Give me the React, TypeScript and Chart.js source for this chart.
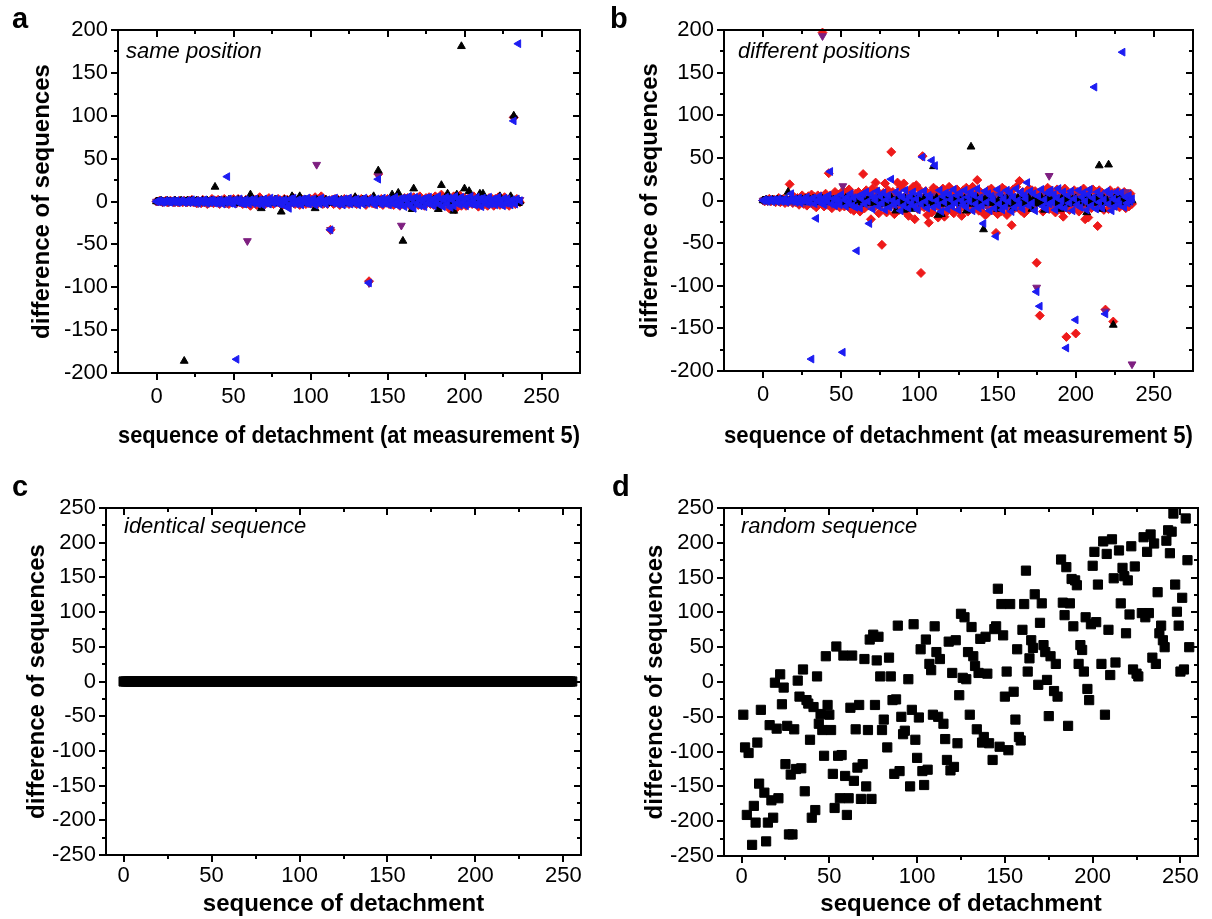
import React, { useEffect, useRef } from 'react';
import { Chart, registerables } from 'chart.js';

Chart.register(...registerables);

const FONT = "'Liberation Sans', Arial, Helvetica, sans-serif";
const BLACK = '#000000';
const RED = '#ee1a1a';
const PURPLE = '#7e1f80';
const BLUE = '#1c1cf2';

// ---------- tick values ----------
const xMajorAB = [0, 50, 100, 150, 200, 250];
const xMinorAB = [25, 75, 125, 175, 225];
const yMajorAB = [-200, -150, -100, -50, 0, 50, 100, 150, 200];
const yMinorAB = [-175, -125, -75, -25, 25, 75, 125, 175];
const xMajorCD = [0, 50, 100, 150, 200, 250];
const xMinorCD = [25, 75, 125, 175, 225];
const yMajorCD = [-250, -200, -150, -100, -50, 0, 50, 100, 150, 200, 250];
const yMinorCD = [-225, -175, -125, -75, -25, 25, 75, 125, 175, 225];

// ---------- panel a: same position (x = sequence index 0..236) ----------
const sameBlue = [
  0,0,1,0,-1,0,1,0,0,-1,1,0,0,1,-1,0,1,0,-1,0,
  1,-1,0,2,-1,0,1,-2,1,0,-1,2,0,-2,1,-1,2,0,-2,1,
  -2,2,0,-3,1,-1,29,3,-2,1,-3,2,-184,-1,3,-2,1,-3,2,0,
  -3,2,1,-2,3,-1,-3,2,0,-4,3,-2,1,-3,4,0,-2,3,-1,2,
  -3,1,-4,2,0,-6,-8,3,-2,4,-1,-3,2,0,-4,3,1,-2,4,-3,
  2,-1,3,-4,0,2,-3,4,-1,1,-3,2,0,-33,3,-2,4,-1,-3,2,
  0,-4,3,1,-2,4,-3,0,2,-1,3,-4,1,2,-3,4,0,-2,-95,3,
  -1,2,-4,3,26,1,-3,4,-2,0,3,-4,2,1,-3,5,-1,-5,3,-2,
  4,-6,2,-3,6,-4,3,-8,5,-2,4,-5,1,3,-6,4,-2,5,-3,2,
  -5,4,-1,6,-4,3,-6,2,5,-3,4,-7,2,-5,6,-2,3,-4,5,-1,
  3,-5,4,-2,6,-3,1,-4,5,-2,3,-6,4,-1,2,-4,5,-3,1,3,
  -4,2,5,-3,1,-5,4,-2,3,-1,-4,2,94,-3,3,184,1,
];
const sameRed = [
  0,0,1,0,-1,0,1,-1,0,1,0,-1,1,0,-1,1,0,-1,1,0,
  -1,1,0,2,-1,0,-2,1,0,-2,2,-1,1,-3,0,-1,3,-2,1,0,
  2,-3,1,0,3,-2,0,-3,2,-1,3,0,-2,3,-1,2,-3,0,2,-2,
  1,-5,3,0,2,-4,1,5,-3,0,-4,2,-1,4,-2,0,-3,2,-1,3,
  -2,1,-4,3,0,2,-3,2,-1,4,-3,0,2,-4,3,-1,2,-3,1,-2,
  3,-2,0,5,-4,2,-1,6,-3,1,2,-3,0,-33,2,-3,3,-1,2,-4,
  1,-2,3,0,2,-3,3,-2,0,4,-3,1,-2,3,-1,2,-4,2,-93,3,
  -2,3,-3,1,32,-2,3,-4,2,-1,3,-3,0,2,-4,4,-2,1,-5,3,
  -2,4,-1,4,-4,2,-6,5,-2,3,-4,6,-3,1,-5,4,0,5,-3,2,
  -4,6,-2,3,-6,8,-3,4,-1,5,-8,3,-4,6,-9,3,-2,7,-5,1,
  4,-5,3,-2,5,-3,6,-1,3,-6,2,-4,5,-3,1,-5,4,-2,3,-5,
  3,-1,5,-4,2,-3,5,-3,1,-5,4,-2,98,-3,3,1,-1,
];
const sameBlack = [
  0,0,0,1,0,-1,0,1,0,0,-1,0,1,0,0,-1,1,0,-186,0,
  1,-1,0,1,0,-1,1,0,-1,0,1,-1,0,1,-1,0,1,-1,17,0,
  -1,1,0,-2,1,0,-1,2,0,-1,1,-2,0,2,-1,1,-2,0,1,-1,
  2,8,-1,0,1,-2,2,0,-8,1,-1,2,0,-2,1,0,-1,2,-2,0,
  1,-12,0,2,-1,1,-2,0,6,-1,2,0,-1,6,1,-2,0,2,-1,1,
  0,-2,1,-8,2,0,-1,1,-2,0,2,-1,1,-2,0,2,-1,0,1,-2,
  2,0,-1,1,-2,2,0,-1,1,5,-2,0,1,-1,2,0,-2,1,-1,0,
  2,6,-1,0,36,1,-2,2,0,-1,1,-2,0,8,-1,2,0,10,-2,1,
  -46,0,2,-1,1,-2,-9,15,0,2,-1,1,-2,0,2,-1,1,0,-2,1,
  2,-1,0,-9,1,19,-2,0,2,9,-1,1,0,-11,2,8,-1,0,181,-2,
  15,1,-1,12,0,2,-2,1,0,-1,9,2,9,-2,1,0,-1,2,-2,0,
  1,-1,2,6,0,-2,1,0,-1,2,6,-1,100,0,1,-2,0,
];
const samePurple = [
  0,0,1,0,-1,0,0,1,-1,0,1,0,-1,1,0,-1,0,1,0,-1,
  1,0,-1,2,0,-1,1,-2,0,1,-1,2,0,-2,1,0,-1,2,-1,0,
  1,-2,2,0,-1,1,-2,0,2,-1,0,1,-2,2,0,-1,1,-2,0,-46,
  1,-1,2,0,-2,1,-1,2,0,-2,1,0,-1,2,-2,1,0,-1,2,-1,
  0,2,-2,1,-1,0,2,-1,1,-2,0,1,-1,2,0,-2,1,-1,0,2,
  -1,1,0,-2,43,1,-1,2,0,-2,1,-1,0,-33,2,-1,1,0,-2,1,
  0,-1,2,-2,1,0,-1,2,0,-2,1,-1,2,0,-1,1,-2,0,-95,1,
  0,-2,2,-1,30,0,-2,1,-1,2,0,-2,1,-1,2,0,-1,1,-2,-28,
  1,0,-2,2,-1,1,0,-2,1,-1,2,0,-1,1,-2,2,0,-1,1,-2,
  2,0,-1,1,-2,2,-1,0,1,-2,2,0,-1,1,-2,0,2,-1,1,0,
  -2,1,-1,2,0,-2,1,-1,2,0,-1,1,-2,0,2,-1,1,-2,0,1,
  -1,2,0,-2,1,-1,2,0,-1,1,-2,0,97,1,-1,0,2,
];

// ---------- panel b: different positions (x = sequence index 0..236) ----------
const diffBlue = [
  0,1,0,-1,1,0,-1,1,0,-1,2,0,-1,1,2,-2,0,1,8,-1,
  2,-2,1,3,-3,0,2,-1,4,-2,1,-186,3,-4,-21,0,5,-3,2,-5,
  4,-1,6,34,-4,2,-6,3,0,-5,7,-178,1,-7,4,-2,8,-6,3,-8,
  -59,5,-9,2,8,-4,10,-1,-27,7,-10,3,0,11,-7,5,-3,9,-11,1,
  6,-8,25,0,-5,10,-2,7,-12,4,-6,12,1,-9,5,-3,10,-7,2,-11,
  8,-4,51,11,-1,-9,6,3,47,-8,41,0,-6,12,-13,5,-2,9,-10,7,
  1,-7,13,-3,6,-11,9,0,-5,12,-8,4,-1,10,-12,6,-4,14,-9,3,
  -6,-27,11,-2,8,-12,5,1,-9,-42,13,-4,7,-11,2,-7,12,-1,9,-13,
  4,-8,14,0,-5,10,-10,6,2,21,-6,11,-3,8,-12,-107,5,-124,13,-7,
  1,-10,9,-4,12,-2,7,-11,3,14,-7,0,10,-9,-173,6,-3,11,-12,2,
  -140,-5,12,-8,4,9,-1,-11,7,13,-6,3,133,-10,10,-2,6,-9,1,-133,
  11,-4,8,-12,2,-7,10,0,-5,9,174,-8,4,-3,6,-1,2,
];
const diffRed = [
  0,-1,1,0,2,-1,0,1,-2,1,3,-2,0,2,-3,1,-2,19,2,-3,
  4,-2,3,-5,2,6,-4,3,-6,5,-3,7,-5,4,-8,6,-2,5,197,-7,
  8,-5,32,6,-9,4,10,-6,7,-8,5,11,-7,9,-4,13,-10,6,-12,8,
  -5,10,-13,7,31,-9,12,-6,9,-22,14,-8,21,11,-15,6,-52,9,20,-14,
  12,-7,57,10,-16,8,21,-11,15,-9,20,-13,7,-18,12,-6,16,-22,18,-10,
  13,-85,52,-8,11,-17,-26,9,-14,15,-7,12,-20,8,-10,14,-19,7,-12,16,
  -9,11,-15,8,13,-11,6,-18,12,-7,15,-13,9,-6,16,-10,8,24,-12,10,
  -13,7,-17,-16,12,-9,14,-11,8,-38,-16,10,-13,15,-8,12,-17,9,-11,-29,
  13,-9,16,-7,23,-12,10,-15,8,-11,14,-6,12,-9,11,-73,7,-135,9,-13,
  11,-8,15,-10,12,-7,9,-14,13,-6,10,-12,-19,14,-160,8,-11,7,-9,12,
  -156,10,-13,9,-7,14,-22,8,-20,11,-9,13,-6,10,-30,12,-8,9,-11,-128,
  8,-10,12,-7,-142,9,-6,11,-8,7,-5,10,-9,6,-7,8,-4,
];
const diffBlack = [
  0,0,1,0,-1,0,1,-1,0,1,0,-1,1,0,-1,1,10,0,-1,1,
  0,-1,1,-2,0,1,-1,2,0,-2,1,-1,2,0,-2,1,-1,0,2,-1,
  1,-2,0,2,-1,1,-3,0,2,-1,-3,1,-2,3,-5,0,2,-1,-2,1,
  -2,3,-1,0,-4,2,-3,1,-2,2,0,-3,1,-2,3,-1,0,2,-4,1,
  -2,-1,3,-1,0,-12,2,-3,1,-2,-11,2,-4,1,-3,-10,2,-1,-2,3,
  -2,1,-4,2,0,-3,1,-2,2,40,-2,3,-17,1,-16,2,-4,0,3,-2,
  1,-2,2,-3,0,1,-2,1,-3,2,-12,0,3,63,-4,1,-2,3,-2,0,
  2,-34,1,-3,2,-1,-3,2,0,-3,-10,1,-2,3,-2,0,2,-4,1,-3,
  -9,2,-1,3,-2,0,2,-4,1,-2,3,-2,-10,1,-3,2,0,-4,3,-1,
  -11,2,-3,1,-2,0,3,-2,1,-3,-10,2,-1,3,-4,0,2,-2,1,-3,
  2,-2,0,-3,2,-1,3,-14,1,-4,2,0,-3,2,-2,41,-1,-10,2,-3,
  0,42,-2,1,-146,3,-4,0,2,-2,1,-3,2,0,-2,1,0,
];
const diffPurple = [
  0,1,0,-1,0,1,0,-1,1,0,-1,0,1,-1,0,2,-1,0,1,-2,
  1,0,-2,2,-1,0,3,-2,1,-1,2,-3,0,1,-2,3,-1,0,193,-2,
  2,-3,1,0,-4,3,-1,2,-3,1,4,17,-2,3,-4,1,-3,2,5,-1,
  3,-4,2,-2,4,-1,3,-5,1,-3,6,-2,4,-4,0,3,-5,2,-1,4,
  -3,5,-2,1,-6,3,-4,2,5,-3,-8,4,-2,3,-5,1,6,5,-4,2,
  -3,4,-1,5,-6,2,-2,3,-4,6,-1,2,-5,3,0,-4,4,-2,5,-3,
  2,-5,4,-1,3,-6,1,5,-3,2,-4,3,-1,6,-5,2,-2,4,-3,1,
  5,-4,2,-6,3,-1,4,-2,6,-5,1,3,-4,2,-3,5,-1,4,-6,2,
  -2,5,-3,1,4,-6,3,-1,2,-4,6,-2,3,-5,1,-102,4,-3,2,-1,
  5,-4,3,29,-2,6,-5,1,4,-3,2,-6,3,-1,5,-4,2,-2,4,-3,
  6,-1,3,-5,2,-4,5,-2,1,-6,3,-1,4,-3,2,-5,6,-2,1,-130,
  3,-4,5,-1,2,-6,4,-3,1,-2,5,-4,10,-1,3,-2,-192,
];

// ---------- panel c: identical sequence (x = 0..255) ----------
const identicalDiff = [
  0,0,0,0,0,0,0,0,0,0,0,0,0,0,0,0,
  0,0,0,0,0,0,0,0,0,0,0,0,0,0,0,0,
  0,0,0,0,0,0,0,0,0,0,0,0,0,0,0,0,
  0,0,0,0,0,0,0,0,0,0,0,0,0,0,0,0,
  0,0,0,0,0,0,0,0,0,0,0,0,0,0,0,0,
  0,0,0,0,0,0,0,0,0,0,0,0,0,0,0,0,
  0,0,0,0,0,0,0,0,0,0,0,0,0,0,0,0,
  0,0,0,0,0,0,0,0,0,0,0,0,0,0,0,0,
  0,0,0,0,0,0,0,0,0,0,0,0,0,0,0,0,
  0,0,0,0,0,0,0,0,0,0,0,0,0,0,0,0,
  0,0,0,0,0,0,0,0,0,0,0,0,0,0,0,0,
  0,0,0,0,0,0,0,0,0,0,0,0,0,0,0,0,
  0,0,0,0,0,0,0,0,0,0,0,0,0,0,0,0,
  0,0,0,0,0,0,0,0,0,0,0,0,0,0,0,0,
  0,0,0,0,0,0,0,0,0,0,0,0,0,0,0,0,
  0,0,0,0,0,0,0,0,0,0,0,0,0,0,0,0,
];

// ---------- panel d: random sequence ----------
const randomX = [
  1,2,4,3,6,7,8,9,11,10,13,14,15,16,17,18,19,20,21,22,
  23,24,25,26,27,29,28,30,31,32,33,34,35,36,37,38,39,40,41,42,
  43,44,45,46,47,48,49,50,51,52,53,54,55,56,57,58,59,60,61,62,
  63,64,65,66,67,68,69,70,71,72,73,75,78,74,76,77,79,80,81,83,
  84,85,86,87,88,89,90,91,92,93,95,96,97,98,99,100,101,103,104,102,
  105,106,107,108,110,109,111,112,113,115,116,117,118,119,120,122,123,121,125,126,
  127,124,128,129,130,131,132,133,135,134,136,137,138,140,141,139,143,144,145,147,
  146,149,148,150,151,152,153,155,156,157,158,159,160,161,162,163,164,165,167,166,
  169,170,172,171,173,174,175,176,178,179,180,182,183,184,185,186,187,188,189,190,
  191,192,193,194,196,195,197,198,199,200,201,202,203,205,206,207,208,209,210,211,
  212,213,215,216,217,218,220,219,221,223,224,222,225,226,228,229,230,231,232,233,
  234,235,236,237,238,239,240,241,242,243,244,245,246,247,248,249,250,251,252,253,
  254,255,
];
const randomY = [
  -47,-94,-102,-191,-234,-178,-202,-87,-40,-146,-159,-229,-202,-62,-170,-195,-1,-67,-167,11,
  -32,-8,-118,-63,-219,-219,-133,-68,-125,2,-21,-124,18,-157,-26,-31,-83,-195,-36,-184,
  8,-60,-46,-69,-106,37,-33,-47,-69,-132,-181,51,-106,-167,-105,38,-135,-191,-167,-37,
  38,-142,-68,-123,-33,-168,-118,33,-150,-69,61,68,65,-168,-33,31,8,-69,-54,-94,
  35,8,-26,-132,-25,81,-128,-50,-75,-70,4,-150,-40,83,-83,-109,-51,-128,-148,47,
  61,-126,26,17,80,-47,43,-50,33,-60,-82,-112,58,-127,13,60,-88,-122,98,6,
  93,-19,4,43,-47,79,37,23,13,-68,62,-87,-79,12,-88,65,-112,76,80,-93,
  134,67,112,-21,15,-98,112,-14,-54,47,-79,-84,75,112,160,15,34,60,126,49,
  -4,85,53,113,43,3,-49,37,-13,26,-21,176,114,96,165,-63,113,148,80,146,
  139,26,53,46,93,15,-10,-26,83,167,187,86,140,26,202,-47,184,75,10,205,
  149,28,189,113,164,152,146,70,97,18,166,195,12,8,99,208,93,187,99,212,
  35,199,26,129,70,81,60,50,203,218,185,216,242,140,101,81,15,121,18,235,
  175,50,
];

// ---------- helpers ----------
function indexPoints(ys: number[]) {
  return ys.map((y, i) => ({ x: i, y }));
}
function pairPoints(xs: number[], ys: number[]) {
  return xs.map((x, i) => ({ x, y: ys[i] }));
}
function series(data: any[], color: string, style: string, rotation: number, radius: number) {
  return {
    data,
    showLine: false,
    clip: false,
    pointStyle: style,
    pointRotation: rotation,
    pointRadius: radius,
    pointHoverRadius: radius,
    pointBackgroundColor: color,
    pointBorderColor: color,
    pointBorderWidth: 1,
  };
}
function markerSets(blue: number[], black: number[], purple: number[], red: number[]) {
  // first dataset is drawn on top
  return [
    series(indexPoints(blue), BLUE, 'triangle', 270, 4.5),
    series(indexPoints(black), BLACK, 'triangle', 0, 4.5),
    series(indexPoints(purple), PURPLE, 'triangle', 180, 4.5),
    series(indexPoints(red), RED, 'rectRot', 0, 4.5),
  ];
}

const X_TITLE_AB = 'sequence of detachment (at measurement 5)';
const X_TITLE_CD = 'sequence of detachment';
const Y_TITLE = 'difference of sequences';

const PANELS = [
  {
    letter: 'a', note: 'same position',
    left: 0, top: 0, w: 600, h: 460,
    area: { l: 118, t: 30, r: 580, b: 373 },
    yTitleC: 42, xTitleC: 436, xTickPad: 11, letterX: 12, letterY: 28, noteX: 126, noteY: 58,
    xMin: -25, xMax: 275, yMin: -200, yMax: 200,
    xMajor: xMajorAB, xMinor: xMinorAB, yMajor: yMajorAB, yMinor: yMinorAB,
    xTitle: X_TITLE_AB,
    datasets: markerSets(sameBlue, sameBlack, samePurple, sameRed),
  },
  {
    letter: 'b', note: 'different positions',
    left: 600, top: 0, w: 612, h: 460,
    area: { l: 124, t: 30, r: 593, b: 371 },
    yTitleC: 50, xTitleC: 436, xTickPad: 11, letterX: 10, letterY: 28, noteX: 138, noteY: 58,
    xMin: -25, xMax: 275, yMin: -200, yMax: 200,
    xMajor: xMajorAB, xMinor: xMinorAB, yMajor: yMajorAB, yMinor: yMinorAB,
    xTitle: X_TITLE_AB,
    datasets: markerSets(diffBlue, diffBlack, diffPurple, diffRed),
  },
  {
    letter: 'c', note: 'identical sequence',
    left: 0, top: 460, w: 600, h: 459,
    area: { l: 106, t: 48, r: 581, b: 395 },
    yTitleC: 37, xTitleC: 446, xTickPad: 8, letterX: 12, letterY: 36, noteX: 124, noteY: 73,
    xMin: -10, xMax: 260, yMin: -250, yMax: 250,
    xMajor: xMajorCD, xMinor: xMinorCD, yMajor: yMajorCD, yMinor: yMinorCD,
    xTitle: X_TITLE_CD,
    datasets: [series(indexPoints(identicalDiff), BLACK, 'rect', 0, 6.5)],
  },
  {
    letter: 'd', note: 'random sequence',
    left: 600, top: 460, w: 612, h: 459,
    area: { l: 124, t: 48, r: 598, b: 396 },
    yTitleC: 55, xTitleC: 446, xTickPad: 8, letterX: 12, letterY: 36, noteX: 141, noteY: 73,
    xMin: -10, xMax: 260, yMin: -250, yMax: 250,
    xMajor: xMajorCD, xMinor: xMinorCD, yMajor: yMajorCD, yMinor: yMinorCD,
    xTitle: X_TITLE_CD,
    datasets: [series(pairPoints(randomX, randomY), BLACK, 'rect', 0, 6.5)],
  },
];

function framePlugin(s: any) {
  return {
    id: 'frame_' + s.letter,
    afterDraw(chart: any) {
      const { ctx, chartArea: ca, scales } = chart;
      const xs = scales.x;
      const ys = scales.y;
      ctx.save();
      ctx.strokeStyle = '#000';
      ctx.lineWidth = 2;
      ctx.strokeRect(ca.left, ca.top, ca.right - ca.left, ca.bottom - ca.top);
      const xTicks = (vals: number[], len: number) => {
        for (const v of vals) {
          const px = Math.round(xs.getPixelForValue(v));
          ctx.beginPath();
          ctx.moveTo(px, ca.bottom);
          ctx.lineTo(px, ca.bottom + len);
          ctx.moveTo(px, ca.top);
          ctx.lineTo(px, ca.top + len);
          ctx.stroke();
        }
      };
      const yTicks = (vals: number[], len: number) => {
        for (const v of vals) {
          const py = Math.round(ys.getPixelForValue(v));
          ctx.beginPath();
          ctx.moveTo(ca.left - len, py);
          ctx.lineTo(ca.left, py);
          ctx.moveTo(ca.right - len, py);
          ctx.lineTo(ca.right, py);
          ctx.stroke();
        }
      };
      xTicks(s.xMajor, 7);
      xTicks(s.xMinor, 4);
      yTicks(s.yMajor, 7);
      yTicks(s.yMinor, 4);
      ctx.fillStyle = '#000';
      ctx.textAlign = 'left';
      ctx.textBaseline = 'alphabetic';
      ctx.font = `bold 29px ${FONT}`;
      ctx.fillText(s.letter, s.letterX, s.letterY);
      ctx.font = `italic 22px ${FONT}`;
      ctx.fillText(s.note, s.noteX, s.noteY);
      ctx.restore();
    },
  };
}

function Panel({ spec }: { spec: any }) {
  const ref = useRef<HTMLCanvasElement>(null);
  useEffect(() => {
    const canvas = ref.current;
    if (!canvas) return;
    const s = spec;
    const titleSize = 24;
    const lh = titleSize * 1.2;
    const padL = s.yTitleC - lh / 2;
    const padB = Math.max(0, s.h - (s.xTitleC + lh / 2));
    const tickFont = { family: FONT, size: 22 };
    const titleFont = { family: FONT, size: titleSize, weight: 'bold' as const };
    const chart = new Chart(canvas, {
      type: 'scatter',
      data: { datasets: s.datasets },
      options: {
        animation: false,
        responsive: false,
        maintainAspectRatio: false,
        devicePixelRatio: 1,
        events: [],
        layout: { padding: { left: padL, top: s.area.t, right: s.w - s.area.r, bottom: padB } },
        plugins: { legend: { display: false }, tooltip: { enabled: false } },
        scales: {
          x: {
            type: 'linear',
            min: s.xMin,
            max: s.xMax,
            afterBuildTicks: (sc: any) => { sc.ticks = s.xMajor.map((v: number) => ({ value: v })); },
            afterFit: (sc: any) => { sc.height = s.h - padB - s.area.b; },
            grid: { display: false, drawTicks: false },
            border: { display: false },
            ticks: { font: tickFont, color: '#000', padding: s.xTickPad, maxRotation: 0, autoSkip: false },
            title: { display: true, text: s.xTitle, font: titleFont, color: '#000', padding: 0 },
          },
          y: {
            type: 'linear',
            min: s.yMin,
            max: s.yMax,
            afterBuildTicks: (sc: any) => { sc.ticks = s.yMajor.map((v: number) => ({ value: v })); },
            afterFit: (sc: any) => { sc.width = s.area.l - padL; },
            grid: { display: false, drawTicks: false },
            border: { display: false },
            ticks: { font: tickFont, color: '#000', padding: 10, autoSkip: false },
            title: { display: true, text: Y_TITLE, font: titleFont, color: '#000', padding: 0 },
          },
        },
      } as any,
      plugins: [framePlugin(s)],
    });
    return () => chart.destroy();
  }, [spec]);
  return (
    <canvas
      ref={ref}
      width={spec.w}
      height={spec.h}
      style={{ position: 'absolute', left: spec.left, top: spec.top, width: spec.w, height: spec.h }}
    />
  );
}

export default function App() {
  return (
    <div style={{ position: 'absolute', left: 0, top: 0, width: 1212, height: 919, background: '#ffffff', overflow: 'hidden' }}>
      {PANELS.map((p) => (
        <Panel key={p.letter} spec={p} />
      ))}
    </div>
  );
}
